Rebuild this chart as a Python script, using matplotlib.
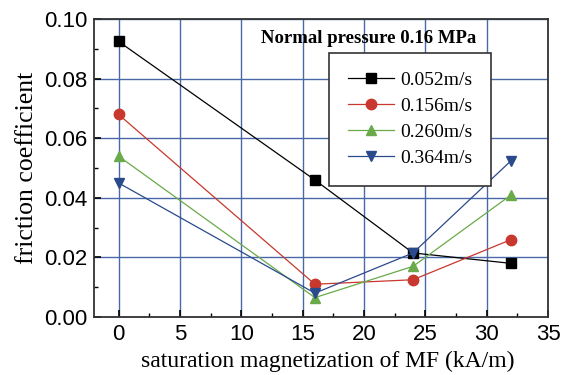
import matplotlib
matplotlib.use("Agg")
import matplotlib.pyplot as plt
from matplotlib.ticker import MultipleLocator

# ==========================================
# Data
# ==========================================

magnetization = [0, 16, 24, 32]

speed_labels = ["0.052m/s", "0.156m/s", "0.260m/s", "0.364m/s"]

friction_0052 = [0.0925, 0.046, 0.0215, 0.018]
friction_0156 = [0.068, 0.011, 0.0125, 0.026]
friction_0260 = [0.054, 0.0065, 0.017, 0.041]
friction_0364 = [0.045, 0.008, 0.0215, 0.0525]

series = [friction_0052, friction_0156, friction_0260, friction_0364]
colors = ["black", "#c8382e", "#6aaa4a", "#2a4a8c"]
markers = ["s", "o", "^", "v"]
sizes = [6.5, 7.5, 7.5, 7.5]

# ==========================================
# Plot
# ==========================================

fig = plt.figure(figsize=(5.61, 3.75), dpi=100)
ax = fig.add_axes([0.1676, 0.1547, 0.8092, 0.7943])

for vals, lab, c, m, s in zip(series, speed_labels, colors, markers, sizes):
    ax.plot(magnetization, vals, color=c, marker=m, markersize=s,
            linewidth=0.9, label=lab, zorder=3)

ax.set_xlim(-2, 35)
ax.set_ylim(0, 0.10)
ax.xaxis.set_major_locator(MultipleLocator(5))
ax.xaxis.set_minor_locator(MultipleLocator(2.5))
ax.yaxis.set_major_locator(MultipleLocator(0.02))
ax.yaxis.set_minor_locator(MultipleLocator(0.01))
ax.yaxis.set_major_formatter(plt.FuncFormatter(lambda v, p: f"{v:.2f}"))

ax.grid(True, which="major", color="#4a68a8", linewidth=1.0, zorder=0)
ax.set_axisbelow(True)

ax.tick_params(which="both", direction="in", top=False, right=False)
ax.tick_params(which="major", length=5, width=1.2, labelsize=16, pad=5)
ax.tick_params(which="minor", length=3, width=1.0)
for lbl in ax.get_xticklabels() + ax.get_yticklabels():
    lbl.set_family("Liberation Sans")

for sp in ax.spines.values():
    sp.set_linewidth(1.3)
    sp.set_color("#333333")

ax.set_xlabel("saturation magnetization of MF (kA/m)",
              family="Liberation Serif", fontsize=17)
ax.xaxis.set_label_coords(0.515, -0.115)
ax.set_ylabel("friction coefficient",
              family="Liberation Serif", fontsize=18.5, labelpad=4)

ax.text(0.606, 0.935, "Normal pressure 0.16 MPa", transform=ax.transAxes,
        ha="center", va="center", family="Liberation Serif",
        fontweight="bold", fontsize=13.5)

leg = ax.legend(loc="upper left", bbox_to_anchor=(0.518, 0.886),
                borderaxespad=0,
                prop={"family": "Liberation Serif", "size": 14},
                fancybox=False, edgecolor="#333333", framealpha=1,
                handlelength=2.4, borderpad=0.95, labelspacing=0.43,
                handletextpad=0.3)
leg.get_frame().set_linewidth(1.2)

plt.savefig("out.png", dpi=100)
